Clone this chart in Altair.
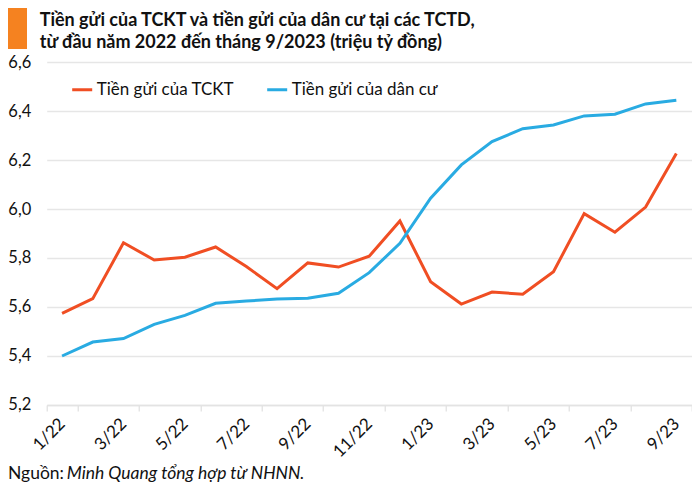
import pandas as pd
import altair as alt

# thang (1/22 .. 9/23)
months = ["1/22", "2/22", "3/22", "4/22", "5/22", "6/22", "7/22", "8/22", "9/22",
          "10/22", "11/22", "12/22", "1/23", "2/23", "3/23", "4/23", "5/23",
          "6/23", "7/23", "8/23", "9/23"]
tckt = [5.574, 5.634, 5.862, 5.792, 5.803, 5.845, 5.765, 5.675, 5.780, 5.763,
        5.807, 5.951, 5.703, 5.612, 5.661, 5.652, 5.744, 5.981, 5.905, 6.008, 6.227]
dancu = [5.400, 5.457, 5.471, 5.529, 5.566, 5.615, 5.624, 5.633, 5.636, 5.656,
         5.740, 5.860, 6.044, 6.180, 6.275, 6.328, 6.343, 6.380, 6.387, 6.429, 6.444]
series = ["Tiền gửi của TCKT", "Tiền gửi của dân cư"]
tick_months = months[::2]

df = pd.concat([
    pd.DataFrame({"thang": months, "gia_tri": tckt, "loai": series[0]}),
    pd.DataFrame({"thang": months, "gia_tri": dancu, "loai": series[1]}),
])

FONT = "Lato"

lines = alt.Chart(df).mark_line(strokeWidth=3).encode(
    x=alt.X("thang:O", sort=months, bandPosition=0.5,
            scale=alt.Scale(type="band", paddingInner=0, paddingOuter=0),
            axis=alt.Axis(title=None, values=tick_months, labelAngle=-45,
                          labelAlign="right", labelBaseline="middle",
                          tickBand="extent", tickExtra=False, tickSize=6,
                          tickColor="#d9d9d9", domainColor="#e3e3e3",
                          domainWidth=1.5, labelPadding=10, labelFontSize=17,
                          labelFont=FONT, labelColor="#111")),
    y=alt.Y("gia_tri:Q", scale=alt.Scale(domain=[5.2, 6.6], nice=False),
            axis=alt.Axis(title=None, values=[5.2, 5.4, 5.6, 5.8, 6.0, 6.2, 6.4, 6.6],
                          labelExpr="replace(format(datum.value, '.1f'), '.', ',')",
                          domain=False, ticks=False, labelPadding=16,
                          labelFontSize=16.5, labelFont=FONT, labelColor="#111",
                          gridColor="#e6e6e6", gridWidth=1.5)),
    color=alt.Color("loai:N", sort=series,
                    scale=alt.Scale(domain=series, range=["#F04E23", "#29ABE2"]),
                    legend=alt.Legend(title=None, orient="none", legendX=24, legendY=16,
                                      direction="horizontal", symbolType="stroke",
                                      symbolSize=400, symbolStrokeWidth=3,
                                      labelFontSize=17, labelFont=FONT,
                                      labelColor="#111", labelOffset=3,
                                      columnPadding=26)),
)

one = pd.DataFrame({"a": [0]})

bar = alt.Chart(one).mark_rect(color="#F58220").encode(
    x=alt.value(-40), x2=alt.value(-19.7), y=alt.value(-56), y2=alt.value(-13))

title1 = alt.Chart(one).mark_text(
    text="Tiền gửi của TCKT và tiền gửi của dân cư tại các TCTD,",
    align="left", baseline="middle", font=FONT, fontSize=18, fontWeight="bold",
    color="#111").encode(x=alt.value(-7), y=alt.value(-41))
title2 = alt.Chart(one).mark_text(
    text="từ đầu năm 2022 đến tháng 9/2023 (triệu tỷ đồng)",
    align="left", baseline="middle", font=FONT, fontSize=18, fontWeight="bold",
    color="#111").encode(x=alt.value(-7), y=alt.value(-19))

src1 = alt.Chart(one).mark_text(
    text="Nguồn:", align="left", baseline="middle", font=FONT, fontSize=17.5,
    color="#111").encode(x=alt.value(-38.7), y=alt.value(412))
src2 = alt.Chart(one).mark_text(
    text="Minh Quang tổng hợp từ NHNN.", align="left", baseline="middle", font=FONT,
    fontSize=17.5, fontStyle="italic", color="#111").encode(x=alt.value(20), y=alt.value(412))

chart = alt.layer(lines, bar, title1, title2, src1, src2).properties(
    width=645, height=343,
    autosize=alt.AutoSizeParams(type="none"),
    padding={"left": 38.7, "top": 54, "right": 0, "bottom": 77},
).configure_view(stroke=None)

chart.save("out.html", embed_options={"renderer": "svg", "actions": False})
